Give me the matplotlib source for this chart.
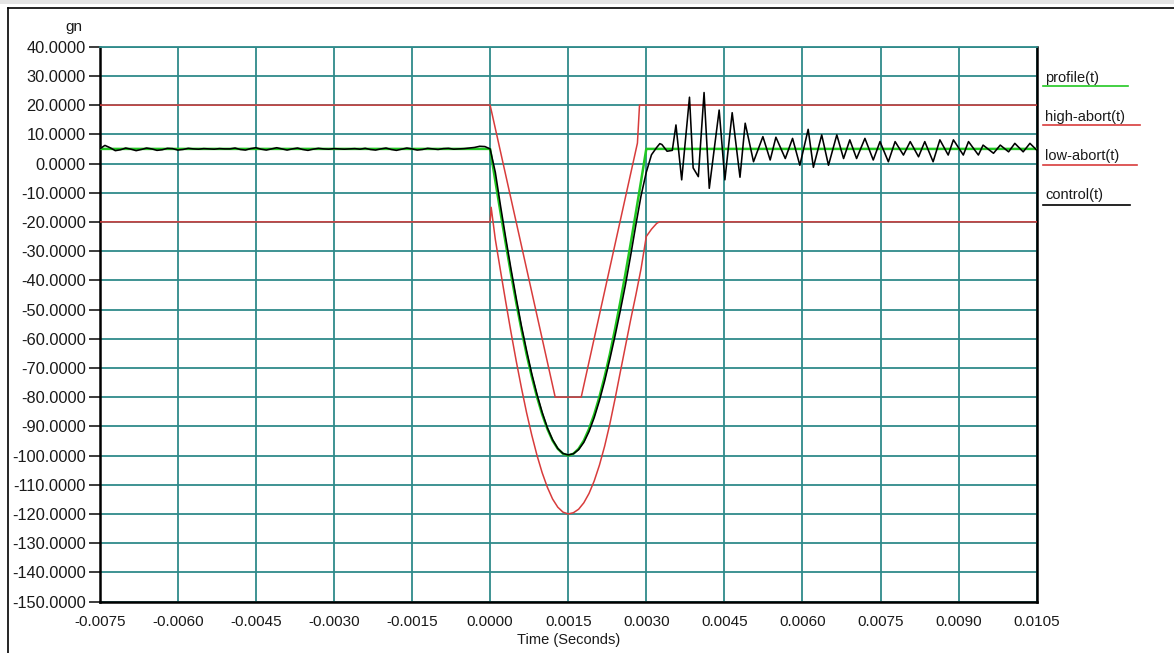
import numpy as np
import matplotlib
matplotlib.use("Agg")
import matplotlib.pyplot as plt
from matplotlib.lines import Line2D
from matplotlib.patches import Rectangle

# --- DATA ---
x_ticks = [-0.0075, -0.0060, -0.0045, -0.0030, -0.0015, 0.0000, 0.0015,
           0.0030, 0.0045, 0.0060, 0.0075, 0.0090, 0.0105]
y_ticks = [40, 30, 20, 10, 0, -10, -20, -30, -40, -50, -60, -70, -80, -90,
           -100, -110, -120, -130, -140, -150]

# control before the pulse, sampled every 0.1 ms from -7.5 ms to 0
pre_t = np.round(np.arange(-0.0075, 0.00001, 0.0001), 5)
pre_ctrl = [5.0, 6.2, 5.4, 4.4, 4.7, 5.3, 4.9, 4.4, 4.8, 5.3,
            5.0, 4.5, 4.7, 5.2, 5.1, 4.6, 4.8, 5.2, 5.0, 4.9,
            5.1, 5.0, 4.9, 5.1, 5.0, 5.0, 5.3, 4.8, 4.6, 5.1,
            5.4, 4.9, 4.6, 5.0, 5.4, 5.0, 4.6, 5.0, 5.3, 4.8,
            4.5, 4.9, 5.2, 5.0, 4.9, 5.1, 5.0, 4.9, 5.0, 5.1,
            4.9, 5.2, 4.8, 4.6, 5.0, 5.3, 4.8, 4.5, 4.9, 5.3,
            5.0, 4.6, 4.8, 5.2, 5.0, 4.8, 5.1, 5.2, 4.9, 5.0,
            5.1, 5.3, 5.5, 5.9, 5.8, 5.0]

# half-sine pulse, 0.1 ms .. 3.0 ms
pulse_t = [0.0001, 0.0002, 0.0003, 0.0004, 0.0005, 0.0006, 0.0007, 0.0008,
           0.0009, 0.0010, 0.0011, 0.0012, 0.0013, 0.0014, 0.0015, 0.0016,
           0.0017, 0.0018, 0.0019, 0.0020, 0.0021, 0.0022, 0.0023, 0.0024,
           0.0025, 0.0026, 0.0027, 0.0028, 0.0029, 0.0030]
pulse_profile = [-6.0, -16.8, -27.4, -37.7, -47.5, -56.7, -65.3, -73.0,
                 -79.9, -85.9, -90.9, -94.9, -97.7, -99.4, -100.0, -99.4,
                 -97.7, -94.9, -90.9, -85.9, -79.9, -73.0, -65.3, -56.7,
                 -47.5, -37.7, -27.4, -16.8, -6.0, 5.0]
pulse_ctrl = [-3.0, -14.5, -25.5, -36.0, -46.0, -55.5, -64.0, -72.0,
              -79.0, -85.2, -90.5, -94.6, -97.6, -99.3, -99.8, -99.4,
              -98.0, -95.5, -91.8, -87.0, -81.2, -74.5, -67.0, -59.0,
              -50.5, -41.5, -31.5, -21.0, -11.0, -3.0]

# ringing after the pulse (peaks / troughs)
tail_t = [0.0031, 0.0032, 0.00326, 0.0033, 0.0034, 0.0035, 0.00357, 0.00368,
          0.00383, 0.00390, 0.00400, 0.00411, 0.00421, 0.00440, 0.00451,
          0.00465, 0.00480, 0.00490, 0.00506, 0.00524, 0.00538, 0.00549,
          0.00567, 0.00581, 0.00595, 0.00611, 0.00621, 0.00637, 0.00650,
          0.00666, 0.00679, 0.00691, 0.00704, 0.00720, 0.00736, 0.00749,
          0.00765, 0.00778, 0.00794, 0.00807, 0.00823, 0.00835, 0.00851,
          0.00864, 0.00880, 0.00890, 0.00909, 0.00919, 0.00938, 0.00947,
          0.00967, 0.00980, 0.00996, 0.01008, 0.01024, 0.01037, 0.0105]
tail_ctrl = [3.0, 5.5, 6.8, 6.5, 4.2, 4.5, 13.2, -5.6, 22.7, -1.5, -4.5,
             24.3, -8.5, 18.3, -5.6, 17.4, -4.7, 13.8, 0.6, 9.2, 1.2, 9.0,
             1.7, 8.6, -0.6, 11.7, -1.3, 9.8, -0.6, 9.8, 1.7, 8.1, 1.7, 8.6,
             1.2, 7.5, 0.6, 7.5, 2.9, 7.5, 2.3, 7.5, 0.6, 8.1, 2.9, 8.1, 2.9,
             7.5, 2.9, 6.3, 3.5, 6.3, 4.0, 6.9, 4.0, 6.9, 4.6]

# abort limits
high_t = [-0.0075, 0.0, 0.00125, 0.00175, 0.00283, 0.00287, 0.0105]
high_v = [20, 20, -80, -80, 7, 20, 20]

low_t = [-0.0075, 0.0, 0.00002, 0.0001, 0.0002, 0.0003, 0.0004, 0.0005,
         0.0006, 0.0007, 0.0008, 0.0009, 0.0010, 0.0011, 0.0012, 0.0013,
         0.0014, 0.0015, 0.0016, 0.0017, 0.0018, 0.0019, 0.0020, 0.0021,
         0.0022, 0.0023, 0.0024, 0.0025, 0.0026, 0.0027, 0.0028, 0.0029,
         0.0030, 0.0031, 0.0032, 0.00325, 0.0105]
low_v = [-20, -20, -15, -26.0, -36.8, -47.4, -57.7, -67.5, -76.7, -85.3,
         -93.0, -99.9, -105.9, -110.9, -114.9, -117.7, -119.4, -120.0,
         -119.6, -118.4, -116.2, -113.0, -108.7, -103.3, -96.8, -89.2,
         -80.6, -71.5, -62.5, -53.5, -45.0, -36.0, -25.0, -22.5, -20.5,
         -20.0, -20.0]

legend_labels = ["profile(t)", "high-abort(t)", "low-abort(t)", "control(t)"]

# --- STYLE ---
GRID = "#2f8a8a"
RED = "#d83c3c"
GREEN = "#22c822"
TXT = "#1a1a1a"
W, H = 1174, 653

plt.rcParams["font.family"] = ["Liberation Sans", "DejaVu Sans"]
fig = plt.figure(figsize=(W / 100, H / 100), dpi=100)
ax = fig.add_axes([99.7 / W, 1 - 601.5 / H, 937 / W, 554.8 / H])

profile_t = list(pre_t) + pulse_t + [0.0105]
profile_v = [5.0] * len(pre_t) + pulse_profile + [5.0]
control_t = list(pre_t) + pulse_t + tail_t
control_v = pre_ctrl + pulse_ctrl + tail_ctrl

ax.plot(high_t, high_v, color=RED, lw=1.1, zorder=3)
ax.plot(low_t, low_v, color=RED, lw=1.1, zorder=3)
ax.plot(profile_t, profile_v, color=GREEN, lw=1.8, zorder=4)
ax.plot(control_t, control_v, color="black", lw=1.15, zorder=5)

ax.set_xlim(-0.0075, 0.0105)
ax.set_ylim(-150, 40)
ax.set_xticks(x_ticks)
ax.set_xticklabels([f"{v:.4f}" for v in x_ticks])
ax.set_yticks(y_ticks)
ax.set_yticklabels([f"{v:.4f}" for v in y_ticks])
ax.tick_params(axis="x", length=0, pad=10, labelsize=11, colors=TXT)
ax.tick_params(axis="y", length=8, width=1.2, pad=2, labelsize=11.8,
               colors=TXT)
ax.grid(True, color=GRID, lw=1.3)
ax.set_axisbelow(True)
for side in ["left", "bottom", "right"]:
    ax.spines[side].set_linewidth(1.8)
    ax.spines[side].set_color("black")
ax.spines["top"].set_color(GRID)
ax.spines["top"].set_linewidth(1.3)

fig.text(74 / W, 1 - 27 / H, "gn", ha="center", va="center", fontsize=11,
         color=TXT)
fig.text(569 / W, 1 - 640 / H, "Time (Seconds)", ha="center", va="center",
         fontsize=10.5, color=TXT)

# legend on the right: text with a coloured underline
leg_colors = [GREEN, RED, RED, "black"]
leg_text_y = [78, 117, 156, 195]
leg_line_y = [86, 125, 165, 205]
leg_line_len = [85, 97, 94, 87]
for lab, c, ty, ly, ln in zip(legend_labels, leg_colors, leg_text_y,
                              leg_line_y, leg_line_len):
    fig.text(1045 / W, 1 - ty / H, lab, ha="left", va="center",
             fontsize=10.5, color=TXT)
    fig.add_artist(Line2D([1043 / W, (1043 + ln) / W], [1 - ly / H] * 2,
                          color=c, lw=1.2))

# outer window frame
fig.add_artist(Rectangle((0, 1 - 4 / H), 1, 4 / H, color="#e4e4e4", lw=0))
fig.add_artist(Line2D([8 / W, 1], [1 - 7.5 / H] * 2, color="black", lw=1.2))
fig.add_artist(Line2D([8 / W, 8 / W], [0, 1 - 7.5 / H], color="black", lw=1.2))

fig.savefig("out.png", dpi=100)
